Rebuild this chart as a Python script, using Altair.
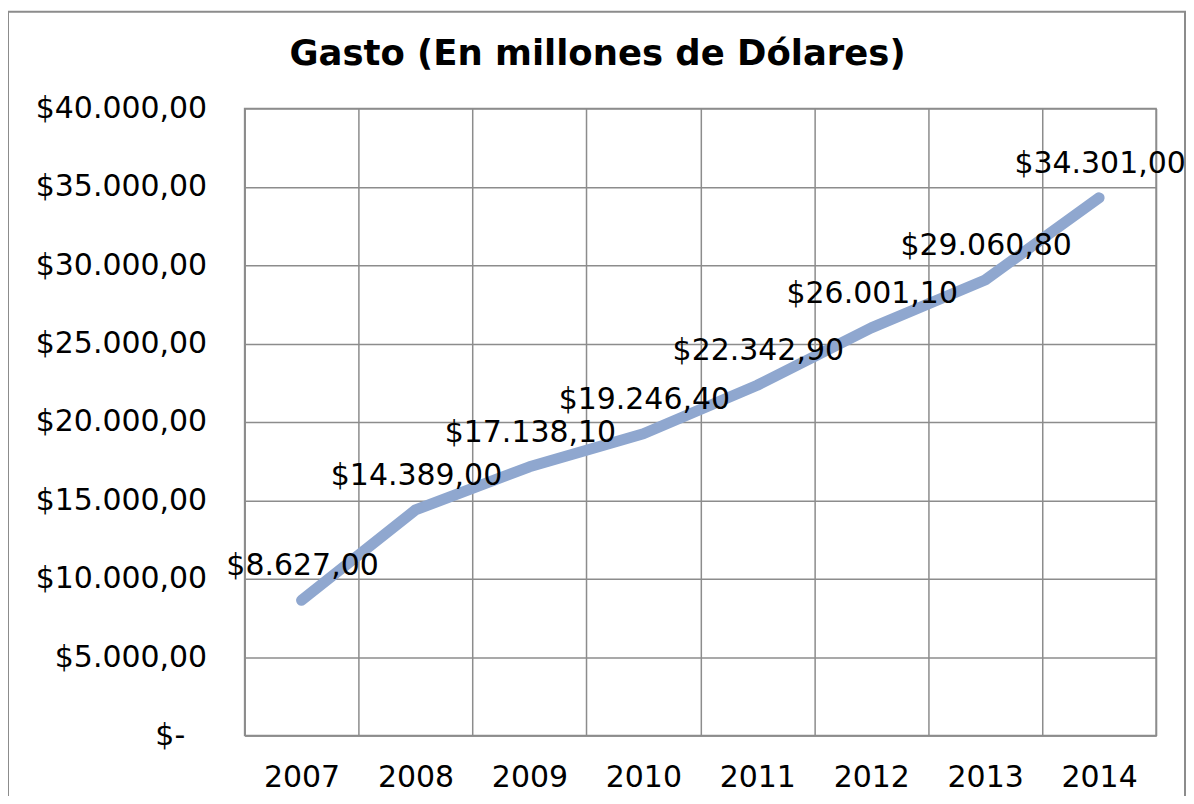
import altair as alt
import pandas as pd

years = ["2007", "2008", "2009", "2010", "2011", "2012", "2013", "2014"]
gasto = [8627.00, 14389.00, 17138.10, 19246.40, 22342.90, 26001.10, 29060.80, 34301.00]
y_ticks = [0, 5000, 10000, 15000, 20000, 25000, 30000, 35000, 40000]

df = pd.DataFrame({"year": years, "gasto": gasto})

FONT = "DejaVu Sans"
GRID = "#8c8c8c"
FS = 30

x_enc = alt.X(
    "year:O",
    sort=None,
    bandPosition=0.5,
    scale=alt.Scale(type="band", paddingInner=0, paddingOuter=0),
    axis=alt.Axis(
        title=None, tickBand="extent", grid=True, gridColor=GRID, gridWidth=1.5,
        ticks=False, domain=True, domainColor=GRID, domainWidth=1.5,
        labelFont=FONT, labelFontSize=FS, labelColor="black", labelPadding=27,
        labelAngle=0,
    ),
)
y_enc = alt.Y(
    "gasto:Q",
    scale=alt.Scale(domain=[0, 40000], nice=False, zero=True),
    axis=alt.Axis(
        title=None, values=y_ticks, format="$,.2f",
        labelExpr="datum.value == 0 ? '$-' : datum.label",
        grid=True, gridColor=GRID, gridWidth=1.5, ticks=False,
        domain=True, domainColor=GRID, domainWidth=1.5,
        labelFont=FONT, labelFontSize=FS, labelColor="black",
        labelPadding={"condition": {"test": "datum.value == 0", "value": 60}, "value": 38},
    ),
)

base = alt.Chart(df)

line = base.mark_line(color="#8FA7CF", strokeWidth=11, strokeCap="round", strokeJoin="round").encode(
    x=x_enc, y=y_enc
)

labels = base.mark_text(
    font=FONT, fontSize=FS, color="black", align="center", baseline="middle", dy=-34, dx=1
).encode(
    x=alt.X("year:O", sort=None, bandPosition=0.5),
    y=alt.Y("gasto:Q"),
    text=alt.Text("gasto:Q", format="$,.2f"),
)

frame = alt.Chart(alt.Data(values=[{"a": 1}])).mark_rect(
    fillOpacity=0, stroke="#8c8c8c", strokeWidth=2
).encode(
    x=alt.value(-237), x2=alt.value(942), y=alt.value(-97), y2=alt.value(720)
)

chart = alt.layer(frame, line, labels).properties(
    width=913,
    height=628,
    padding={"left": 237, "top": 100, "right": 30, "bottom": 60},
    autosize=alt.AutoSizeParams(type="none"),
    title=alt.TitleParams(
        "Gasto (En millones de Dólares)", font=FONT, fontSize=35.5, fontWeight="bold",
        color="black", anchor="middle", frame="group", dx=-103, offset=-62,
    ),
).configure(
    locale=alt.Locale(number=alt.NumberLocale(decimal=",", thousands=".", grouping=[3], currency=["$", ""]))
).configure_view(stroke=GRID, strokeWidth=1.5)

chart.save("out.html", embed_options={"renderer": "svg", "actions": False})
